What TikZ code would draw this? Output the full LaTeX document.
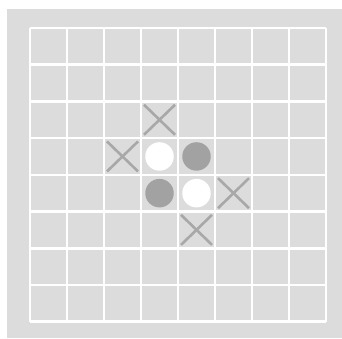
\documentclass[tikz,border=0pt]{standalone}
\begin{document}
\begin{tikzpicture}[x=1pt,y=-1pt,
  gridline/.style={draw=white,line width=2.6pt},
  whitedisc/.style={circle,fill=white,minimum size=28.5pt,inner sep=0pt},
  greydisc/.style={circle,fill=discgrey,minimum size=28.5pt,inner sep=0pt},
  xmark/.style={draw=markgrey,line width=2.6pt}]
\definecolor{bggrey}{RGB}{220,220,220}
\definecolor{discgrey}{RGB}{162,162,162}
\definecolor{markgrey}{RGB}{168,168,168}
\useasboundingbox (0,0) rectangle (342,338);
\fill[bggrey] (7,9) rectangle (342,338);
\def\xo{30}\def\yo{28}\def\cw{37}\def\ch{36.7}
\foreach \i in {0,...,8}{
  \draw[gridline] ({\xo+\i*\cw},\yo) -- ({\xo+\i*\cw},{\yo+8*\ch});
  \draw[gridline] (\xo,{\yo+\i*\ch}) -- ({\xo+8*\cw},{\yo+\i*\ch});
}
\node[whitedisc] (w1) at ({\xo+3.5*\cw},{\yo+3.5*\ch}) {};
\node[greydisc] (g1) at ({\xo+4.5*\cw},{\yo+3.5*\ch}) {};
\node[greydisc] (g2) at ({\xo+3.5*\cw},{\yo+4.5*\ch}) {};
\node[whitedisc] (w2) at ({\xo+4.5*\cw},{\yo+4.5*\ch}) {};
\foreach \c/\r in {3/2,2/3,5/4,4/5}{
  \draw[xmark] ({\xo+(\c+0.5)*\cw-15.5},{\yo+(\r+0.5)*\ch-15}) -- ({\xo+(\c+0.5)*\cw+15.5},{\yo+(\r+0.5)*\ch+15});
  \draw[xmark] ({\xo+(\c+0.5)*\cw-15.5},{\yo+(\r+0.5)*\ch+15}) -- ({\xo+(\c+0.5)*\cw+15.5},{\yo+(\r+0.5)*\ch-15});
}
\end{tikzpicture}
\end{document}
